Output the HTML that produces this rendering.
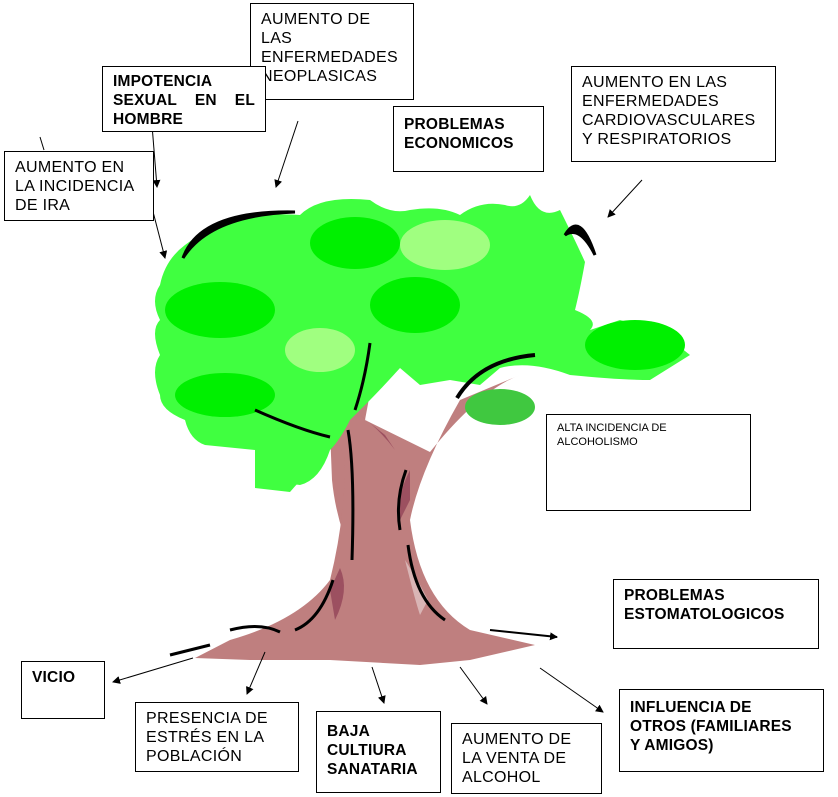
<!DOCTYPE html>
<html><head><meta charset="utf-8"><style>
body{margin:0;background:#fff;width:838px;height:797px;overflow:hidden;position:relative;font-family:"Liberation Sans",Arial,sans-serif}
.b{position:absolute;border:1px solid #000;background:#fff;box-sizing:border-box;font-size:16px;letter-spacing:0.3px;line-height:19px;padding:6px 10px;color:#000;white-space:nowrap}
.bd{font-weight:bold;font-size:15.5px;letter-spacing:0.2px}
svg{position:absolute;left:0;top:0}
</style></head><body>
<svg width="838" height="797" viewBox="0 0 838 797">
<defs><marker id="a" markerWidth="8" markerHeight="8" refX="7" refY="4" orient="auto" markerUnits="userSpaceOnUse"><path d="M0,0 L8,4 L0,8 z" fill="#000"/></marker></defs>
<path d="M335,395 L350,380 Q370,330 375,345 L350,430 Q360,500 395,620 Q340,560 332,480 L330,430 Q290,425 270,415 Z" fill="#bf7f7f"/>
<path d="M330,420 L345,385 Q370,360 378,350 L365,420 L430,452 Q480,390 520,375 L460,400 Q420,470 410,520 Q420,600 470,630 L535,645 L470,660 L420,665 L330,660 L250,660 L195,658 L230,640 Q300,620 330,580 Q345,520 345,460 Z" fill="#bf7f7f"/>
<path d="M360,415 Q380,430 395,450 L385,435 Z" fill="#9c5060"/>
<path d="M410,470 Q395,500 400,520 L410,500 Z" fill="#9c5060"/>
<path d="M405,560 Q415,600 420,615 L428,600 Q418,580 405,560Z" fill="#d9b5b5"/>
<path d="M340,568 Q350,590 335,620 L330,590 Z" fill="#9c5060"/>
<path d="M185,245 Q230,210 300,215 Q320,195 370,200 Q390,215 410,210 Q440,205 460,215 Q480,200 505,205 Q520,210 530,195 Q540,220 560,210 Q575,240 585,262 Q580,290 575,310 Q600,320 590,330 L620,320 Q660,330 690,355 L650,380 Q620,380 570,375 Q530,360 500,368 L480,385 L450,380 L420,385 L400,368 Q380,390 370,400 L350,420 Q340,440 330,450 Q320,480 300,485 L260,480 Q255,470 255,450 L205,445 Q190,440 185,420 Q160,410 160,395 Q150,370 160,355 Q150,330 160,320 Q150,300 160,285 Q165,260 185,245 Z" fill="#40ff40"/>
<path d="M255,445 L255,488 L290,492 Q300,480 312,470 L320,445 Z" fill="#40ff40"/>
<g fill="#00f000">
<ellipse cx="220" cy="310" rx="55" ry="28"/><ellipse cx="355" cy="243" rx="45" ry="26"/><ellipse cx="415" cy="305" rx="45" ry="28"/><ellipse cx="225" cy="395" rx="50" ry="22"/><ellipse cx="635" cy="345" rx="50" ry="25"/></g>
<g fill="#a0ff80"><ellipse cx="445" cy="245" rx="45" ry="25"/><ellipse cx="320" cy="350" rx="35" ry="22"/></g>
<ellipse cx="500" cy="407" rx="35" ry="18" fill="#40c840"/>
<g fill="#000">
<path d="M183,258 Q200,210 295,212 Q210,215 183,258Z" stroke="#000" stroke-width="3"/>
<path d="M565,235 Q580,210 595,255 Q580,225 565,235Z" stroke="#000" stroke-width="3"/>
<path d="M457,398 Q480,360 535,355" fill="none" stroke="#000" stroke-width="4"/>
<path d="M255,410 Q300,430 330,437" fill="none" stroke="#000" stroke-width="3"/>
<path d="M348,430 Q355,470 352,560" fill="none" stroke="#000" stroke-width="3"/>
<path d="M370,343 Q365,380 355,410" fill="none" stroke="#000" stroke-width="3"/>
<path d="M406,470 Q395,500 400,530" fill="none" stroke="#000" stroke-width="3"/>
<path d="M408,545 Q415,600 445,620" fill="none" stroke="#000" stroke-width="3"/>
<path d="M333,580 Q320,620 295,630" fill="none" stroke="#000" stroke-width="3"/>
<path d="M230,630 Q260,622 280,632" fill="none" stroke="#000" stroke-width="3"/>
<path d="M170,655 L210,645" fill="none" stroke="#000" stroke-width="3"/>
</g>
<g stroke="#000" stroke-width="1" fill="none" marker-end="url(#a)">
<line x1="152" y1="125" x2="157" y2="187"/>
<line x1="150" y1="200" x2="165" y2="258"/>
<line x1="298" y1="121" x2="276" y2="187"/>
<line x1="642" y1="180" x2="608" y2="217"/>
<line x1="193" y1="658" x2="113" y2="682"/>
<line x1="265" y1="652" x2="247" y2="694"/>
<line x1="372" y1="667" x2="384" y2="703"/>
<line x1="460" y1="667" x2="487" y2="704"/>
<line x1="540" y1="668" x2="603" y2="712"/>
<line x1="490" y1="630" x2="557" y2="637" stroke-width="2"/>
</g>
<line x1="40" y1="137" x2="44" y2="150" stroke="#000"/>
</svg>
<div class="b" style="left:250px;top:3px;width:164px;height:97px">AUMENTO DE<br>LAS<br>ENFERMEDADES<br>NEOPLASICAS</div>
<div class="b bd" style="left:102px;top:66px;width:164px;height:66px;overflow:hidden;padding-top:5px">IMPOTENCIA<br><span style="display:inline-block;width:142px;text-align:justify;text-align-last:justify">SEXUAL EN EL</span><br>HOMBRE</div>
<div class="b" style="left:4px;top:151px;width:150px;height:70px">AUMENTO EN<br>LA INCIDENCIA<br>DE IRA</div>
<div class="b bd" style="left:393px;top:106px;width:151px;height:66px;padding-top:8px">PROBLEMAS<br>ECONOMICOS</div>
<div class="b" style="left:571px;top:66px;width:205px;height:96px">AUMENTO EN LAS<br>ENFERMEDADES<br>CARDIOVASCULARES<br>Y RESPIRATORIOS</div>
<div class="b" style="left:546px;top:414px;width:205px;height:97px;font-size:11px;letter-spacing:0;line-height:14px;padding:6px 10px">ALTA INCIDENCIA DE<br>ALCOHOLISMO</div>
<div class="b bd" style="left:613px;top:579px;width:206px;height:70px">PROBLEMAS<br>ESTOMATOLOGICOS</div>
<div class="b bd" style="left:21px;top:661px;width:84px;height:58px">VICIO</div>
<div class="b" style="left:135px;top:702px;width:164px;height:70px">PRESENCIA DE<br>ESTRÉS EN LA<br>POBLACIÓN</div>
<div class="b bd" style="left:316px;top:711px;width:125px;height:82px;padding-top:10px">BAJA<br>CULTIURA<br>SANATARIA</div>
<div class="b" style="left:451px;top:723px;width:151px;height:71px">AUMENTO DE<br>LA VENTA DE<br>ALCOHOL</div>
<div class="b bd" style="left:619px;top:689px;width:205px;height:83px;padding-top:8px">INFLUENCIA DE<br>OTROS (FAMILIARES<br>Y AMIGOS)</div>
</body></html>
